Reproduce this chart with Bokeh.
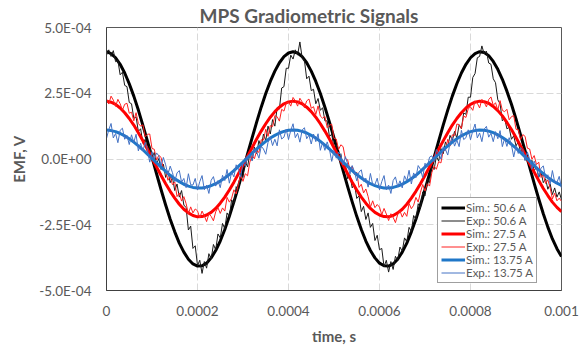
from bokeh.plotting import figure
from bokeh.models import Range1d, FixedTicker
from bokeh.embed import file_html
from bokeh.resources import INLINE

# ---------------- data (EMF values in units of 1e-4 V) ----------------
t_sim = [round(i * 1e-5, 8) for i in range(101)]
t_exp = [round(k * 5e-6, 9) for k in range(201)]

sim_50_6 = [
    4.08, 4.01, 3.85, 3.60, 3.27, 2.86, 2.39, 1.86, 1.28, 0.68,
    0.06, -0.56, -1.17, -1.75, -2.29, -2.77, -3.20, -3.54, -3.81, -3.99,
    -4.07, -4.06, -3.96, -3.76, -3.48, -3.12, -2.68, -2.18, -1.63, -1.05,
    -0.43, 0.19, 0.80, 1.40, 1.97, 2.49, 2.95, 3.34, 3.66, 3.89,
    4.03, 4.08, 4.03, 3.89, 3.66, 3.34, 2.95, 2.49, 1.97, 1.40,
    0.80, 0.19, -0.44, -1.05, -1.63, -2.18, -2.68, -3.12, -3.48, -3.76,
    -3.96, -4.06, -4.07, -3.99, -3.81, -3.54, -3.20, -2.77, -2.29, -1.75,
    -1.17, -0.56, 0.06, 0.68, 1.29, 1.86, 2.39, 2.86, 3.27, 3.60,
    3.85, 4.01, 4.08, 4.05, 3.93, 3.71, 3.41, 3.03, 2.58, 2.08,
    1.52, 0.92, 0.31, -0.31, -0.93, -1.52, -2.08, -2.59, -3.04, -3.41,
    -3.71]

sim_27_5 = [
    2.20, 2.16, 2.08, 1.94, 1.76, 1.54, 1.29, 1.00, 0.69, 0.37,
    0.03, -0.30, -0.63, -0.94, -1.23, -1.49, -1.72, -1.91, -2.05, -2.15,
    -2.20, -2.19, -2.13, -2.03, -1.88, -1.68, -1.45, -1.18, -0.88, -0.56,
    -0.23, 0.10, 0.43, 0.76, 1.06, 1.34, 1.59, 1.80, 1.97, 2.10,
    2.17, 2.20, 2.17, 2.10, 1.97, 1.80, 1.59, 1.34, 1.06, 0.76,
    0.43, 0.10, -0.23, -0.56, -0.88, -1.18, -1.45, -1.68, -1.88, -2.03,
    -2.13, -2.19, -2.20, -2.15, -2.05, -1.91, -1.72, -1.49, -1.23, -0.94,
    -0.63, -0.30, 0.03, 0.37, 0.69, 1.00, 1.29, 1.54, 1.76, 1.94,
    2.08, 2.16, 2.20, 2.18, 2.12, 2.00, 1.84, 1.64, 1.39, 1.12,
    0.82, 0.50, 0.17, -0.17, -0.50, -0.82, -1.12, -1.39, -1.64, -1.84,
    -2.00]

sim_13_75 = [
    1.10, 1.08, 1.04, 0.97, 0.88, 0.77, 0.64, 0.50, 0.35, 0.18,
    0.02, -0.15, -0.31, -0.47, -0.62, -0.75, -0.86, -0.96, -1.03, -1.08,
    -1.10, -1.10, -1.07, -1.01, -0.94, -0.84, -0.72, -0.59, -0.44, -0.28,
    -0.12, 0.05, 0.22, 0.38, 0.53, 0.67, 0.80, 0.90, 0.99, 1.05,
    1.09, 1.10, 1.09, 1.05, 0.99, 0.90, 0.80, 0.67, 0.53, 0.38,
    0.22, 0.05, -0.12, -0.28, -0.44, -0.59, -0.72, -0.84, -0.94, -1.01,
    -1.07, -1.10, -1.10, -1.08, -1.03, -0.96, -0.86, -0.75, -0.62, -0.47,
    -0.31, -0.15, 0.02, 0.18, 0.35, 0.50, 0.64, 0.77, 0.88, 0.97,
    1.04, 1.08, 1.10, 1.09, 1.06, 1.00, 0.92, 0.82, 0.70, 0.56,
    0.41, 0.25, 0.08, -0.08, -0.25, -0.41, -0.56, -0.70, -0.82, -0.92,
    -1.00]

exp_50_6 = [
    3.95, 4.15, 3.9, 4.12, 3.7, 3.75, 3.2, 3.3, 2.8, 2.75,
    2.15, 2.1, 1.55, 1.6, 1.05, 1.15, 0.6, 0.75, 0.3, 0.5,
    0.05, 0.25, -0.2, 0.02, -0.4, -0.2, -0.7, -0.45, -0.9, -0.7,
    -1.2, -0.95, -1.45, -1.2, -1.75, -1.85, -2.7, -2.55, -3.4, -3.3,
    -4.05, -3.85, -4.35, -3.9, -4.15, -3.6, -3.8, -3.25, -3.45, -2.85,
    -3.0, -2.45, -2.65, -2.05, -2.2, -1.55, -1.7, -1.05, -1.2, -0.55,
    -0.7, -0.1, -0.3, 0.2, -0.05, 0.45, 0.2, 0.7, 0.45, 0.95,
    0.7, 1.25, 0.95, 1.5, 1.25, 1.95, 1.9, 2.7, 2.75, 3.45,
    3.45, 3.95, 3.8, 4.15, 3.95, 4.45, 3.85, 3.75, 3.05, 3.15,
    2.6, 2.65, 2.1, 2.3, 1.85, 1.95, 1.45, 1.45, 0.85, 0.95,
    0.4, 0.55, 0.05, 0.2, -0.3, -0.2, -0.75, -0.6, -1.1, -0.95,
    -1.5, -1.4, -2.0, -1.8, -2.3, -2.05, -2.6, -2.45, -3.1, -2.9,
    -3.45, -3.4, -4.1, -3.85, -4.3, -3.9, -4.2, -3.7, -3.85, -3.35,
    -3.5, -3.0, -3.15, -2.6, -2.75, -2.15, -2.3, -1.7, -1.85, -1.25,
    -1.4, -0.75, -0.9, -0.25, -0.4, 0.1, -0.08, 0.4, 0.2, 0.65,
    0.45, 0.9, 0.7, 1.05, 0.8, 1.3, 1.15, 1.75, 1.7, 2.35,
    2.35, 3.1, 3.25, 3.85, 3.9, 4.3, 4.0, 4.1, 3.65, 3.6,
    3.05, 2.9, 2.25, 2.1, 1.45, 1.55, 1.15, 1.2, 0.75, 0.88,
    0.5, 0.65, 0.25, 0.38, -0.05, 0.15, -0.2, -0.05, -0.45, -0.3,
    -0.7, -0.5, -0.9, -0.75, -1.15, -0.95, -1.35, -1.1, -1.45, -1.25,
    -1.55]

exp_27_5 = [
    2.28, 2.09, 2.39, 2.24, 2.00, 2.27, 2.10, 1.86, 2.08, 2.12,
    1.74, 1.78, 1.45, 1.76, 1.35, 1.25, 1.30, 0.85, 0.94, 0.95,
    0.40, 0.37, -0.04, 0.14, 0.06, -0.39, -0.43, -0.81, -0.66, -0.98,
    -0.87, -1.43, -1.29, -1.60, -1.43, -1.70, -2.08, -1.82, -2.05, -1.90,
    -1.97, -2.24, -1.98, -2.16, -2.38, -2.08, -2.18, -2.35, -2.01, -1.85,
    -2.07, -1.86, -1.98, -1.46, -1.64, -1.49, -1.17, -1.33, -0.94, -0.62,
    -0.85, -0.56, -0.64, -0.12, 0.13, 0.01, 0.31, 0.25, 0.73, 0.72,
    1.13, 0.86, 1.27, 1.23, 1.65, 1.61, 1.44, 1.89, 1.82, 2.12,
    2.17, 2.01, 2.34, 2.21, 2.01, 2.31, 2.17, 1.95, 2.21, 2.28,
    1.93, 1.99, 1.69, 2.02, 1.63, 1.55, 1.62, 1.19, 1.29, 1.32,
    0.78, 0.76, 0.36, 0.54, 0.47, 0.01, -0.03, -0.41, -0.27, -0.60,
    -0.50, -1.08, -0.96, -1.29, -1.14, -1.43, -1.83, -1.59, -1.85, -1.73,
    -1.83, -2.12, -1.88, -2.09, -2.34, -2.08, -2.22, -2.42, -2.11, -1.97,
    -2.21, -2.03, -2.18, -1.69, -1.89, -1.76, -1.46, -1.64, -1.27, -0.97,
    -1.22, -0.94, -1.03, -0.52, -0.27, -0.39, -0.10, -0.15, 0.33, 0.33,
    0.75, 0.49, 0.92, 0.89, 1.33, 1.31, 1.16, 1.63, 1.58, 1.91,
    1.98, 1.85, 2.21, 2.12, 1.94, 2.27, 2.16, 1.98, 2.26, 2.36,
    2.04, 2.14, 1.86, 2.22, 1.85, 1.80, 1.89, 1.49, 1.61, 1.65,
    1.13, 1.12, 0.73, 0.93, 0.86, 0.41, 0.38, -0.01, 0.13, -0.21,
    -0.12, -0.70, -0.59, -0.93, -0.79, -1.10, -1.52, -1.30, -1.59, -1.49,
    -1.61]

exp_13_75 = [
    0.78, 1.11, 1.35, 0.80, 0.97, 0.62, 1.09, 1.17, 0.75, 0.89,
    0.55, 0.92, 0.63, 0.94, 0.31, 0.60, 0.30, 0.63, 0.35, -0.12,
    0.28, 0.00, 0.23, 0.12, -0.26, 0.06, -0.22, -0.59, -0.27, -0.52,
    -0.86, -0.53, -0.44, -0.88, -0.74, -1.09, -0.56, -0.98, -0.99, -0.74,
    -1.18, -0.86, -0.63, -1.17, -0.99, -1.31, -0.81, -0.67, -1.03, -0.82,
    -1.09, -0.62, -0.82, -0.40, -0.92, -0.50, -0.68, -0.22, -0.37, -0.69,
    -0.13, -0.27, 0.10, 0.15, -0.07, 0.39, 0.26, 0.03, 0.49, 0.38,
    0.18, 0.63, 0.84, 0.51, 0.75, 0.50, 1.11, 0.76, 0.83, 1.13,
    0.74, 1.09, 1.34, 0.81, 0.98, 0.64, 1.10, 1.19, 0.77, 0.91,
    0.57, 0.95, 0.66, 0.96, 0.33, 0.63, 0.33, 0.65, 0.37, -0.09,
    0.32, 0.03, 0.26, 0.15, -0.23, 0.09, -0.19, -0.57, -0.25, -0.49,
    -0.83, -0.50, -0.41, -0.85, -0.73, -1.07, -0.55, -0.97, -0.97, -0.73,
    -1.17, -0.86, -0.63, -1.17, -0.99, -1.31, -0.82, -0.68, -1.05, -0.83,
    -1.10, -0.64, -0.83, -0.43, -0.95, -0.53, -0.71, -0.25, -0.39, -0.71,
    -0.16, -0.30, 0.07, 0.12, -0.10, 0.36, 0.22, 0.00, 0.47, 0.36,
    0.15, 0.60, 0.82, 0.49, 0.72, 0.47, 1.09, 0.74, 0.81, 1.11,
    0.73, 1.07, 1.33, 0.80, 0.99, 0.66, 1.13, 1.24, 0.83, 0.98,
    0.66, 1.04, 0.77, 1.08, 0.47, 0.78, 0.48, 0.81, 0.53, 0.08,
    0.49, 0.21, 0.44, 0.33, -0.05, 0.27, -0.01, -0.39, -0.08, -0.33,
    -0.67, -0.35, -0.26, -0.72, -0.60, -0.96, -0.44, -0.87, -0.89, -0.66,
    -1.11]

x_ticks = [0, 0.0002, 0.0004, 0.0006, 0.0008, 0.001]
x_tick_labels = ["0", "0.0002", "0.0004", "0.0006", "0.0008", "0.001"]
y_ticks = [-5e-4, -2.5e-4, 0.0, 2.5e-4, 5e-4]
y_tick_labels = ["-5.0E-04", "-2.5E-04", "0.0E+00", "2.5E-04", "5.0E-04"]

series = [
    ("Sim.: 50.6 A", t_sim, sim_50_6, "#000000", 3.0),
    ("Exp.: 50.6 A", t_exp, exp_50_6, "#1a1a1a", 1.0),
    ("Sim.: 27.5 A", t_sim, sim_27_5, "#ff0000", 3.0),
    ("Exp.: 27.5 A", t_exp, exp_27_5, "#ff2020", 1.0),
    ("Sim.: 13.75 A", t_sim, sim_13_75, "#1f77c8", 3.0),
    ("Exp.: 13.75 A", t_exp, exp_13_75, "#4472c4", 1.0),
]

FONT = "Lato"
GREY = "#595959"

p = figure(width=587, height=349, output_backend="svg", toolbar_location=None,
           x_range=Range1d(0, 0.001), y_range=Range1d(-5e-4, 5e-4),
           min_border_left=106, min_border_right=26, min_border_top=26,
           min_border_bottom=59, background_fill_color="white",
           border_fill_color="white")

p.title.text = "MPS Gradiometric Signals"
p.title.align = "left"
p.title.offset = 93
p.title.text_font = FONT
p.title.text_font_size = "19px"
p.title.text_font_style = "bold"
p.title.text_color = GREY
p.title.standoff = 2

for name, t, vals, color, w in series:
    p.line(t, [v * 1e-4 for v in vals], line_color=color, line_width=w,
           line_join="round", legend_label=name)

# axes
p.xaxis.ticker = FixedTicker(ticks=x_ticks)
p.xaxis.major_label_overrides = dict(zip(x_ticks, x_tick_labels))
p.yaxis.ticker = FixedTicker(ticks=y_ticks)
p.yaxis.major_label_overrides = dict(zip(y_ticks, y_tick_labels))
for ax in (p.xaxis[0], p.yaxis[0]):
    ax.major_tick_in = 0
    ax.major_tick_out = 0
    ax.minor_tick_in = 0
    ax.minor_tick_out = 0
    ax.axis_line_color = "#404040"
    ax.major_label_text_font = FONT
    ax.major_label_text_font_size = "13.5px"
    ax.major_label_text_color = GREY
    ax.axis_label_text_font = FONT
    ax.axis_label_text_font_size = "15px"
    ax.axis_label_text_font_style = "bold"
    ax.axis_label_text_color = GREY
p.xaxis.axis_label = "time, s"
p.yaxis.axis_label = "EMF, V"
p.xaxis.major_label_standoff = 15
p.yaxis.major_label_standoff = 15
p.xaxis.axis_label_standoff = 8
p.yaxis.axis_label_standoff = 8

p.xgrid.grid_line_color = "#d9d9d9"
p.ygrid.grid_line_color = "#d9d9d9"
p.xgrid.grid_line_dash = "7 3"
p.ygrid.grid_line_dash = "7 3"
p.outline_line_color = GREY
p.outline_line_width = 1

lg = p.legend[0]
lg.location = (331, 7)
lg.label_text_font = FONT
lg.label_text_font_size = "11.5px"
lg.label_text_color = GREY
lg.glyph_width = 24
lg.glyph_height = 13
lg.label_height = 13
lg.spacing = 0
lg.padding = 3
lg.margin = 0
lg.label_standoff = 1
lg.border_line_color = "#404040"
lg.border_line_width = 1
lg.background_fill_alpha = 1.0

open("out.html", "w").write(file_html(p, INLINE))
